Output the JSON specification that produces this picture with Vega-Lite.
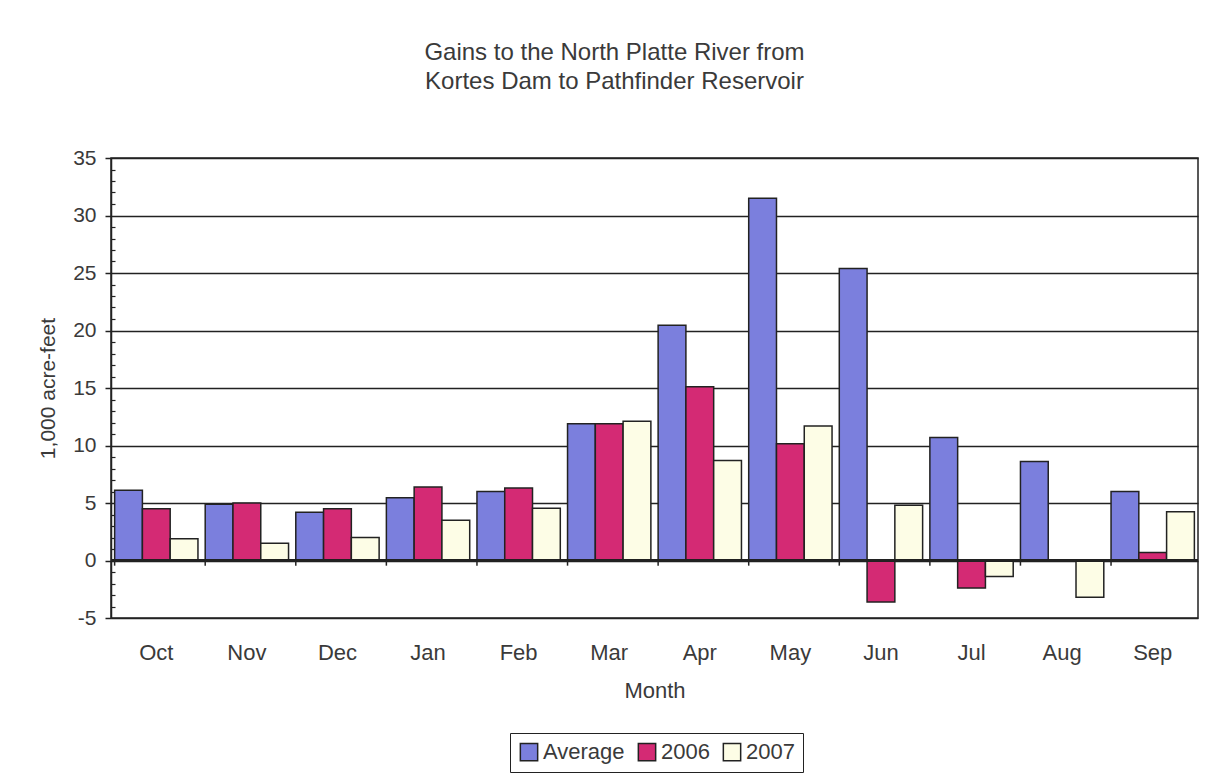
{
  "$schema": "https://vega.github.io/schema/vega-lite/v6.json",
  "width": 1087,
  "height": 460,
  "autosize": "none",
  "padding": {"left": 111, "top": 158, "right": 11, "bottom": 159},
  "background": "white",
  "title": {
    "text": ["Gains to the North Platte River from", "Kortes Dam to Pathfinder Reservoir"],
    "font": "Liberation Sans",
    "fontSize": 24,
    "fontWeight": "normal",
    "color": "#3a3a3a",
    "lineHeight": 29,
    "offset": 53,
    "dx": -40,
    "anchor": "middle"
  },
  "config": {
    "view": {"stroke": "#222222", "strokeWidth": 1.5},
    "font": "Liberation Sans"
  },
  "data": {
    "values": [
      {"month": "Oct", "series": "Average", "value": 6.1},
      {"month": "Oct", "series": "2006", "value": 4.5},
      {"month": "Oct", "series": "2007", "value": 1.9},
      {"month": "Nov", "series": "Average", "value": 4.9},
      {"month": "Nov", "series": "2006", "value": 5.0},
      {"month": "Nov", "series": "2007", "value": 1.5},
      {"month": "Dec", "series": "Average", "value": 4.2},
      {"month": "Dec", "series": "2006", "value": 4.5},
      {"month": "Dec", "series": "2007", "value": 2.0},
      {"month": "Jan", "series": "Average", "value": 5.45},
      {"month": "Jan", "series": "2006", "value": 6.4},
      {"month": "Jan", "series": "2007", "value": 3.5},
      {"month": "Feb", "series": "Average", "value": 6.0},
      {"month": "Feb", "series": "2006", "value": 6.3},
      {"month": "Feb", "series": "2007", "value": 4.55},
      {"month": "Mar", "series": "Average", "value": 11.9},
      {"month": "Mar", "series": "2006", "value": 11.9},
      {"month": "Mar", "series": "2007", "value": 12.1},
      {"month": "Apr", "series": "Average", "value": 20.45},
      {"month": "Apr", "series": "2006", "value": 15.1},
      {"month": "Apr", "series": "2007", "value": 8.7},
      {"month": "May", "series": "Average", "value": 31.5},
      {"month": "May", "series": "2006", "value": 10.15},
      {"month": "May", "series": "2007", "value": 11.7},
      {"month": "Jun", "series": "Average", "value": 25.4},
      {"month": "Jun", "series": "2006", "value": -3.6},
      {"month": "Jun", "series": "2007", "value": 4.8},
      {"month": "Jul", "series": "Average", "value": 10.7},
      {"month": "Jul", "series": "2006", "value": -2.4},
      {"month": "Jul", "series": "2007", "value": -1.4},
      {"month": "Aug", "series": "Average", "value": 8.6},
      {"month": "Aug", "series": "2007", "value": -3.2},
      {"month": "Sep", "series": "Average", "value": 6.0},
      {"month": "Sep", "series": "2006", "value": 0.7},
      {"month": "Sep", "series": "2007", "value": 4.25}
    ]
  },
  "layer": [
    {
      "mark": {"type": "bar", "stroke": "#222222", "strokeWidth": 1.5},
      "encoding": {
        "x": {
          "field": "month",
          "type": "nominal",
          "sort": ["Oct","Nov","Dec","Jan","Feb","Mar","Apr","May","Jun","Jul","Aug","Sep"],
          "scale": {"paddingInner": 0.08, "paddingOuter": 0.04},
          "axis": {
            "title": "Month",
            "labelAngle": 0,
            "ticks": false,
            "domain": false,
            "labelPadding": 24,
            "labelFontSize": 22,
            "labelColor": "#3a3a3a",
            "titleFontSize": 22,
            "titleFontWeight": "normal",
            "titleColor": "#3a3a3a",
            "titlePadding": 17
          }
        },
        "xOffset": {
          "field": "series",
          "type": "nominal",
          "sort": ["Average","2006","2007"],
          "scale": {"paddingInner": 0, "paddingOuter": 0}
        },
        "y": {
          "field": "value",
          "type": "quantitative",
          "scale": {"domain": [-5, 35], "nice": false},
          "axis": {
            "title": "1,000 acre-feet",
            "values": [-5,-4,-3,-2,-1,0,1,2,3,4,5,6,7,8,9,10,11,12,13,14,15,16,17,18,19,20,21,22,23,24,25,26,27,28,29,30,31,32,33,34,35],
            "tickCount": 60,
            "labelExpr": "datum.value % 5 === 0 ? (datum.value < 0 ? '-' + abs(datum.value) : '' + datum.value) : ''",
            "grid": true,
            "gridColor": "#222222",
            "gridWidth": 1.5,
            "gridOpacity": {"condition": {"test": "datum.value % 5 === 0", "value": 1}, "value": 0},
            "domainColor": "#222222",
            "domainWidth": 1.5,
            "tickColor": "#222222",
            "tickWidth": {"condition": {"test": "datum.value % 5 === 0", "value": 1.5}, "value": 1.2},
            "tickSize": {"condition": {"test": "datum.value % 5 === 0", "value": 6}, "value": -4},
            "labelFontSize": 21,
            "labelColor": "#3a3a3a",
            "labelPadding": 9,
            "labelOverlap": false,
            "titleFontSize": 21,
            "titleFontWeight": "normal",
            "titleColor": "#3a3a3a",
            "titlePadding": 14
          }
        },
        "color": {
          "field": "series",
          "type": "nominal",
          "scale": {"domain": ["Average","2006","2007"], "range": ["#7b7fdd","#d42a74","#fdfde6"]},
          "legend": {
            "orient": "none",
            "legendX": 399,
            "legendY": 575,
            "direction": "horizontal",
            "title": null,
            "strokeColor": "#222222",
            "padding": 8,
            "symbolType": "square",
            "symbolSize": 300,
            "symbolStrokeColor": "#222222",
            "symbolStrokeWidth": 1.5,
            "labelFontSize": 22,
            "labelColor": "#3a3a3a",
            "labelFont": "Liberation Sans",
            "columnPadding": 10,
            "labelOffset": 3
          }
        }
      }
    },
    {
      "mark": {"type": "rule", "stroke": "#222222", "strokeWidth": 1.5},
      "encoding": {
        "y": {"datum": 0, "type": "quantitative"}
      }
    },
    {
      "data": {
        "values": [
          {"month": "Oct"}, {"month": "Nov"}, {"month": "Dec"}, {"month": "Jan"},
          {"month": "Feb"}, {"month": "Mar"}, {"month": "Apr"}, {"month": "May"},
          {"month": "Jun"}, {"month": "Jul"}, {"month": "Aug"}, {"month": "Sep"}
        ]
      },
      "mark": {"type": "rule", "stroke": "#222222", "strokeWidth": 1.5},
      "encoding": {
        "x": {
          "field": "month",
          "type": "nominal",
          "sort": ["Oct","Nov","Dec","Jan","Feb","Mar","Apr","May","Jun","Jul","Aug","Sep"],
          "bandPosition": 0
        },
        "y": {"datum": 0, "type": "quantitative"},
        "y2": {"datum": -0.45}
      }
    }
  ]
}
